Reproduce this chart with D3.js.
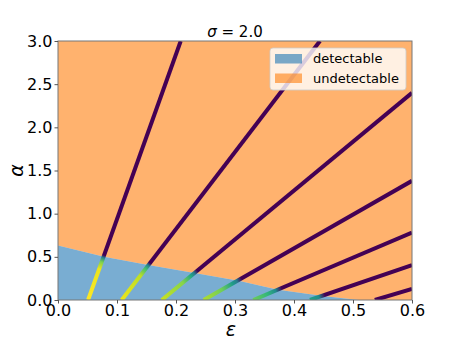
<!DOCTYPE html>
<html>
<head>
<meta charset="utf-8">
<script src="https://cdn.jsdelivr.net/npm/d3@7"></script>
<style>
  body { margin: 0; background: #fff; }
  text { font-family: "DejaVu Sans", sans-serif; fill: #000; }
</style>
</head>
<body>
<svg id="chart" width="458" height="343"></svg>
<script>
// ---- data ----
const xTicks = [0, 0.1, 0.2, 0.3, 0.4, 0.5, 0.6];
const yTicks = [0, 0.5, 1.0, 1.5, 2.0, 2.5, 3.0];

// upper edge of the detectable region
const boundaryEps   = [0, 0.078, 0.153, 0.229, 0.306, 0.373, 0.449, 0.51];
const boundaryAlpha = [0.63, 0.50, 0.405, 0.315, 0.224, 0.12, 0.046, 0];

// each line: start on the eps axis, end on the frame
const lineStartEps = [0.051, 0.108, 0.176, 0.247, 0.331, 0.427, 0.537];
const lineEndEps   = [0.208, 0.444, 0.6, 0.6, 0.6, 0.6, 0.6];
const lineEndAlpha = [3.0, 3.0, 2.40, 1.38, 0.78, 0.405, 0.127];
// colour along each line: [alpha, viridis value]
const lineColors = [
  [[0, 1.0], [0.36, 0.97], [0.44, 0.8], [0.49, 0.45], [0.52, 0.0]],
  [[0, 0.97], [0.28, 0.9], [0.36, 0.7], [0.40, 0.45], [0.43, 0.0]],
  [[0, 0.92], [0.2, 0.82], [0.28, 0.6], [0.31, 0.42], [0.34, 0.0]],
  [[0, 0.88], [0.12, 0.78], [0.19, 0.55], [0.22, 0.42], [0.25, 0.0]],
  [[0, 0.78], [0.07, 0.66], [0.11, 0.48], [0.14, 0.0]],
  [[0, 0.58], [0.035, 0.48], [0.06, 0.0]],
  [[0, 0.0]]
];

const legendLabels = ['detectable', 'undetectable'];
const fillColors = ['#1f77b4', '#ff7f0e'];

// ---- layout ----
const W = 458, H = 343;
const margin = {top: 41, right: 46, bottom: 43, left: 58};
const svg = d3.select('#chart');

const x = d3.scaleLinear().domain([0, 0.6]).range([margin.left, W - margin.right]);
const y = d3.scaleLinear().domain([0, 3.0]).range([H - margin.bottom, margin.top]);

const defs = svg.append('defs');
defs.append('clipPath').attr('id', 'plot')
  .append('rect')
  .attr('x', x(0)).attr('y', y(3))
  .attr('width', x(0.6) - x(0)).attr('height', y(0) - y(3));

const plot = svg.append('g').attr('clip-path', 'url(#plot)');

const bnd = boundaryEps.map((e, i) => [e, boundaryAlpha[i]]);

// undetectable: everything above the boundary
const upper = [[0, 3.0]].concat(bnd, [[0.6, 0], [0.6, 3.0]]);
const lower = [[0, 0]].concat(bnd);
const area = d3.line().x(d => x(d[0])).y(d => y(d[1]));

plot.append('rect')
  .attr('x', x(0)).attr('y', y(3))
  .attr('width', x(0.6) - x(0)).attr('height', y(0) - y(3))
  .attr('fill', '#fff');

plot.append('path').attr('d', area(upper) + 'Z')
  .attr('fill', fillColors[1]).attr('fill-opacity', 0.6);
plot.append('path').attr('d', area(lower) + 'Z')
  .attr('fill', fillColors[0]).attr('fill-opacity', 0.6);

// lines with colour gradient
lineStartEps.forEach((e0, i) => {
  const e1 = lineEndEps[i], a1 = lineEndAlpha[i];
  const id = 'grad' + i;
  const g = defs.append('linearGradient').attr('id', id)
    .attr('gradientUnits', 'userSpaceOnUse')
    .attr('x1', x(e0)).attr('y1', y(0))
    .attr('x2', x(e1)).attr('y2', y(a1));
  lineColors[i].forEach(([a, t]) => {
    g.append('stop').attr('offset', a / a1).attr('stop-color', d3.interpolateViridis(t));
  });
  plot.append('path')
    .attr('d', d3.line()([[x(e0), y(0)], [x(e1), y(a1)]]))
    .attr('stroke', `url(#${id})`)
    .attr('stroke-width', 4)
    .attr('fill', 'none');
});

// frame
svg.append('rect')
  .attr('x', x(0)).attr('y', y(3))
  .attr('width', x(0.6) - x(0)).attr('height', y(0) - y(3))
  .attr('fill', 'none').attr('stroke', '#777').attr('stroke-width', 1);

// axes
const xAxis = svg.append('g')
  .attr('transform', `translate(0,${y(0)})`)
  .call(d3.axisBottom(x).tickValues(xTicks).tickFormat(d3.format('.1f')).tickSize(3.5).tickPadding(1.5));
const yAxis = svg.append('g')
  .attr('transform', `translate(${x(0)},0)`)
  .call(d3.axisLeft(y).tickValues(yTicks).tickFormat(d3.format('.1f')).tickSize(3.5).tickPadding(2));
[xAxis, yAxis].forEach(a => {
  a.select('.domain').remove();
  a.selectAll('line').attr('stroke', '#555');
  a.selectAll('text').style('font-family', '"DejaVu Sans", sans-serif').style('font-size', '16px').attr('fill', '#000');
});

// title and labels
const title = svg.append('text')
  .attr('x', (x(0) + x(0.6)) / 2).attr('y', 37)
  .attr('text-anchor', 'middle').style('font-size', '15px');
title.append('tspan').style('font-style', 'italic').text('σ');
title.append('tspan').text(' = 2.0');

svg.append('text')
  .attr('transform', `translate(23,${(y(0) + y(3)) / 2}) rotate(-90)`)
  .attr('text-anchor', 'middle')
  .style('font-size', '19px').style('font-style', 'italic')
  .text('α');

svg.append('text')
  .attr('x', (x(0) + x(0.6)) / 2 - 4).attr('y', 336)
  .attr('text-anchor', 'middle')
  .style('font-size', '19px').style('font-style', 'italic')
  .text('ε');

// legend
const lg = svg.append('g');
lg.append('rect')
  .attr('x', 270).attr('y', 48).attr('width', 136).attr('height', 42).attr('rx', 3)
  .attr('fill', '#fff').attr('fill-opacity', 0.8)
  .attr('stroke', '#ccc').attr('stroke-opacity', 0.8);
legendLabels.forEach((lab, i) => {
  lg.append('rect')
    .attr('x', 275).attr('y', 54 + i * 19.5).attr('width', 27).attr('height', 9.5)
    .attr('fill', fillColors[i]).attr('fill-opacity', 0.6);
  lg.append('text')
    .attr('x', 313).attr('y', 63 + i * 19.5)
    .style('font-size', '13px')
    .text(lab);
});
</script>
</body>
</html>
